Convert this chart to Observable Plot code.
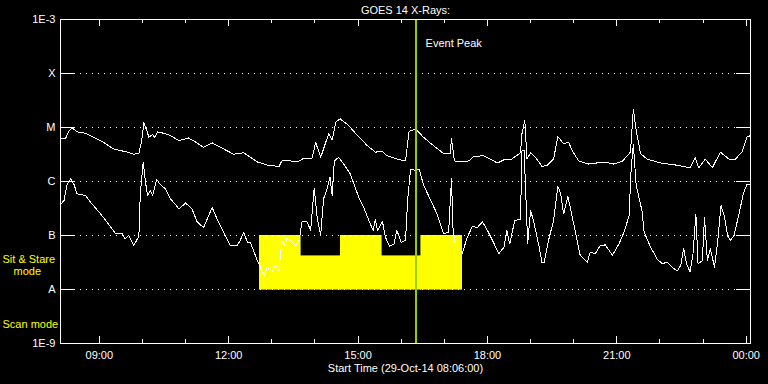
<!DOCTYPE html>
<html><head><meta charset="utf-8">
<script src="https://cdn.jsdelivr.net/npm/d3@7"></script>
<script src="https://cdn.jsdelivr.net/npm/@observablehq/plot@0.6"></script>
<style>html,body{margin:0;padding:0;background:#000;overflow:hidden}</style>
</head><body><div id="chart"></div>
<script>
// GOES 14 long channel (1-8 A), upper curve
const longTimes = [
 "08:06","08:13","08:17","08:22","08:29","08:41","08:52","09:06","09:20","09:39",
 "09:48","09:55","09:59","10:02","10:06","10:09","10:14","10:17","10:21","10:30",
 "10:39","10:51","11:04","11:11","11:25","11:37","11:53","12:07","12:21","12:40",
 "12:54","13:10","13:14","13:26","13:35","13:45","13:56","14:01","14:08","14:19",
 "14:24","14:29","14:35","14:47","14:59","15:13","15:24","15:34","15:40","15:54",
 "16:06","16:11","16:20","16:31","16:45","16:59","17:08","17:10","17:14","17:22",
 "17:34","17:41","17:55","18:14","18:25","18:32","18:46","18:48","18:52","18:55",
 "19:00","19:07","19:16","19:23","19:32","19:38","19:46","19:53","19:58","20:07",
 "20:21","20:42","20:56","21:08","21:19","21:23","21:27","21:33","21:42","22:01",
 "22:24","22:42","22:49","22:54","23:03","23:13","23:24","23:36","23:45","23:54",
 "00:01","00:06"];
const longFlux = [
 6.4e-6,6.2e-6,8.3e-6,9.9e-6,8.3e-6,7.8e-6,6.6e-6,5.3e-6,4.0e-6,3.5e-6,
 3.2e-6,3.3e-6,5.7e-6,1.22e-5,8.8e-6,6.6e-6,7.4e-6,6.6e-6,8.3e-6,7.8e-6,
 7.1e-6,5.7e-6,6.4e-6,5.7e-6,4.3e-6,5.2e-6,4.0e-6,3.2e-6,3.4e-6,2.3e-6,
 2.0e-6,1.9e-6,2.4e-6,2.4e-6,2.3e-6,2.7e-6,2.7e-6,5.3e-6,2.8e-6,7.6e-6,
 5.9e-6,1.25e-5,1.45e-5,1.09e-5,7.1e-6,4.6e-6,3.5e-6,3.6e-6,3.0e-6,2.6e-6,
 2.4e-6,8.5e-6,9.4e-6,6.6e-6,4.6e-6,3.3e-6,3.3e-6,6.2e-6,2.4e-6,2.3e-6,
 2.4e-6,2.9e-6,3.0e-6,2.2e-6,2.6e-6,2.5e-6,3.4e-6,7.6e-6,1.35e-5,2.6e-6,
 3.4e-6,2.8e-6,1.9e-6,2.0e-6,2.6e-6,6.8e-6,5.0e-6,5.3e-6,3.7e-6,2.4e-6,
 2.1e-6,2.3e-6,2.1e-6,2.4e-6,3.5e-6,2.2e-5,8.8e-6,3.3e-6,2.6e-6,2.2e-6,
 2.0e-6,1.8e-6,2.8e-6,1.8e-6,2.6e-6,1.8e-6,3.5e-6,2.6e-6,2.6e-6,3.5e-6,
 6.6e-6,7.1e-6];

// GOES 14 short channel (0.5-4 A), lower curve
const shortTimes = [
 "08:06","08:11","08:15","08:20","08:25","08:29","08:41","08:48","09:02","09:23",
 "09:32","09:36","09:41","09:48","09:53","09:55","09:57","10:01","10:04","10:07",
 "10:11","10:14","10:20","10:25","10:32","10:39","10:51","11:00","11:09","11:16",
 "11:25","11:32","11:37","11:44","11:53","12:02","12:12","12:16","12:21","12:26",
 "12:30","12:40","12:44","12:49","12:54","13:01","13:05","13:10","13:14","13:18",
 "13:21","13:26","13:33","13:38","13:42","13:49","13:54","13:59","14:03","14:08",
 "14:12","14:17","14:21","14:24","14:27","14:33","14:40","14:49","15:01","15:08",
 "15:15","15:21","15:24","15:27","15:34","15:38","15:44","15:50","15:54","16:00",
 "16:06","16:09","16:13","16:20","16:25","16:31","16:41","16:50","16:59","17:06",
 "17:10","17:12","17:16","17:25","17:32","17:39","17:46","17:53","18:00","18:07",
 "18:16","18:23","18:27","18:31","18:38","18:46","18:48","18:51","18:56","19:00",
 "19:04","19:07","19:12","19:16","19:19","19:25","19:32","19:38","19:42","19:46",
 "19:52","19:58","20:03","20:09","20:19","20:23","20:30","20:37","20:44","20:54",
 "21:03","21:10","21:17","21:20","21:23","21:27","21:35","21:38","21:47","21:56",
 "22:03","22:10","22:17","22:24","22:29","22:33","22:37","22:42","22:46","22:50",
 "22:53","22:59","23:02","23:06","23:10","23:16","23:20","23:25","23:30","23:34",
 "23:38","23:43","23:50","23:56","00:01","00:06"];
const shortFlux = [
 3.7e-7,4.5e-7,8.7e-7,1.12e-6,8.7e-7,5.9e-7,5.5e-7,4.1e-7,2.5e-7,1.07e-7,
 1.07e-7,8.7e-8,1.0e-7,6.5e-8,8.7e-8,9.3e-8,5.9e-7,2.3e-6,1.04e-6,5.5e-7,
 6.8e-7,5.5e-7,1.09e-6,8.7e-7,7.3e-7,4.8e-7,3.1e-7,4.0e-7,3.1e-7,1.8e-7,
 1.4e-7,2.3e-7,3.3e-7,2.0e-7,1.15e-7,6.5e-8,6.5e-8,8.1e-8,1.15e-7,7.5e-8,
 7.5e-8,3.4e-8,2.6e-8,1.8e-8,2.6e-8,2.2e-8,2.8e-8,2.2e-8,8.1e-8,6.5e-8,
 8.7e-8,8.1e-8,6.5e-8,8.1e-8,1.8e-7,1.8e-7,1.24e-7,7.6e-7,2.2e-7,1.0e-7,
 4.8e-7,7.3e-7,1.2e-6,5.5e-7,2.4e-6,2.8e-6,2.1e-6,1.4e-6,5.1e-7,3.3e-7,
 1.9e-7,1.24e-7,2.0e-7,1.24e-7,1.8e-7,9.3e-8,6.3e-8,7.0e-8,1.24e-7,7.5e-8,
 8.1e-8,4.5e-7,1.7e-6,1.6e-6,1.7e-6,8.7e-7,4.5e-7,2.5e-7,1.07e-7,1.15e-7,
 1.12e-6,1.4e-7,6.1e-8,4.7e-8,9.3e-8,1.47e-7,1.4e-7,1.8e-7,1.24e-7,8.1e-8,
 4.6e-8,6.1e-8,1.24e-7,7.0e-8,1.9e-7,2.0e-7,3.7e-6,3.8e-6,7.0e-8,2.9e-7,
 1.9e-7,1.24e-7,6.1e-8,3.1e-8,3.2e-8,8.1e-8,1.9e-7,8.1e-7,5.9e-7,2.5e-7,
 5.3e-7,2.2e-7,1.07e-7,4.3e-8,3.2e-8,4.9e-8,4.6e-8,6.5e-8,6.7e-8,4.3e-8,
 7.0e-8,1.15e-7,2.3e-7,1.8e-6,4.8e-6,8.4e-7,2.9e-7,1.15e-7,6.1e-8,3.7e-8,
 3.0e-8,3.2e-8,2.6e-8,2.2e-8,2.8e-8,5.7e-8,3.0e-8,2.1e-8,4.6e-8,2.5e-7,
 3.0e-8,3.4e-8,2.2e-7,3.4e-8,5.7e-8,2.6e-8,7.0e-8,3.6e-7,2.2e-7,1.0e-7,
 8.1e-8,1.0e-7,2.5e-7,5.9e-7,8.8e-7,8.7e-7];

// Sit & Stare mode intervals
const modeStart = ["12:43","13:40","14:36","15:33","16:28"];
const modeEnd   = ["13:40","14:36","15:33","16:28","17:25"];
const modeLevel = [1e-7, 4.1e-8, 1e-7, 4.1e-8, 1e-7];
const modeBase = 1e-8;

const peakTime = "16:20";
const startTime = "08:06", endTime = "00:06";

const yTickValues = [1e-3, 1e-4, 1e-5, 1e-6, 1e-7, 1e-8, 1e-9];
const yTickLabels = ["1E-3", "X", "M", "C", "B", "A", "1E-9"];
const gridValues = [1e-4, 1e-5, 1e-6, 1e-7, 1e-8];
const majorTicks = ["09:00","12:00","15:00","18:00","21:00","00:00"];
const minorTicks = ["10:00","11:00","13:00","14:00","16:00","17:00","19:00","20:00","22:00","23:00"];

const titleText = "GOES 14 X-Rays:";
const xLabelText = "Start Time (29-Oct-14 08:06:00)";

function toDate(s) {
  const [h, m] = s.split(":").map(Number);
  return new Date(Date.UTC(2014, 9, h < 8 ? 30 : 29, h, m));
}
const longData = longTimes.map((t, i) => ({t: toDate(t), f: longFlux[i]}));
const shortData = shortTimes.map((t, i) => ({t: toDate(t), f: shortFlux[i]}));
const modes = modeStart.map((s, i) => ({a: toDate(s), b: toDate(modeEnd[i]), lo: modeBase, hi: modeLevel[i]}));
const yTicks = yTickValues.map((v, i) => ({v, label: yTickLabels[i]}));
const majors = majorTicks.map(s => ({t: toDate(s), label: s}));
const minors = minorTicks.map(toDate);

const W = 768, H = 384, mL = 60, mR = 18, mT = 19, mB = 41;
const pw = W - mL - mR, ph = H - mT - mB;
const white = "#ffffff";
const crisp = {shapeRendering: "crispEdges"};

const chart = Plot.plot({
  width: W, height: H,
  marginLeft: mL, marginRight: mR, marginTop: mT, marginBottom: mB,
  style: {background: "#000", color: white, fontFamily: "Liberation Sans", fontSize: "11px"},
  x: {type: "utc", domain: [toDate(startTime), toDate(endTime)], axis: null},
  y: {type: "log", domain: [1e-9, 1e-3], axis: null},
  marks: [
    Plot.rect(modes, {x1: "a", x2: "b", y1: "lo", y2: "hi", fill: "#ffff00", stroke: "#ffff00", strokeWidth: 0.6, ...crisp}),
    Plot.ruleY(gridValues, {stroke: white, strokeDasharray: "1,5", insetLeft: 14, insetRight: 14, ...crisp}),
    Plot.ruleY(gridValues, {stroke: white, insetRight: pw - 14, ...crisp}),
    Plot.ruleY(gridValues, {stroke: white, insetLeft: pw - 14, ...crisp}),
    Plot.ruleX(majors, {x: "t", stroke: white, insetTop: ph - 7, ...crisp}),
    Plot.ruleX(majors, {x: "t", stroke: white, insetBottom: ph - 7, ...crisp}),
    Plot.ruleX(minors, {stroke: white, insetTop: ph - 4, ...crisp}),
    Plot.ruleX(minors, {stroke: white, insetBottom: ph - 4, ...crisp}),
    Plot.line(longData, {x: "t", y: "f", stroke: white, strokeWidth: 1, ...crisp}),
    Plot.line(shortData, {x: "t", y: "f", stroke: white, strokeWidth: 1, ...crisp}),
    Plot.ruleX([toDate(peakTime)], {stroke: "#99cc00", strokeWidth: 2, ...crisp}),
    Plot.frame({stroke: white, ...crisp}),
    Plot.text(yTicks, {y: "v", text: "label", frameAnchor: "left", textAnchor: "end", dx: -5, fill: white}),
    Plot.text(majors, {x: "t", text: "label", frameAnchor: "bottom", dy: 12, lineAnchor: "middle", fill: white}),
    Plot.text([titleText], {frameAnchor: "top", dy: -9, lineAnchor: "middle", fill: white}),
    Plot.text([xLabelText], {frameAnchor: "bottom", dy: 25, lineAnchor: "middle", fill: white}),
    Plot.text(["Event Peak"], {x: () => toDate(peakTime), frameAnchor: "top", dy: 24, dx: 10, textAnchor: "start", lineAnchor: "middle", fill: white}),
    Plot.text(["Sit & Stare"], {frameAnchor: "top-left", dx: -58, dy: 240, textAnchor: "start", lineAnchor: "middle", fill: "#ffff00"}),
    Plot.text(["mode"], {frameAnchor: "top-left", dx: -47, dy: 252, textAnchor: "start", lineAnchor: "middle", fill: "#ffff00"}),
    Plot.text(["Scan mode"], {frameAnchor: "top-left", dx: -58, dy: 305, textAnchor: "start", lineAnchor: "middle", fill: "#ffff00"})
  ]
});
document.getElementById("chart").appendChild(chart);
</script>
</body></html>
